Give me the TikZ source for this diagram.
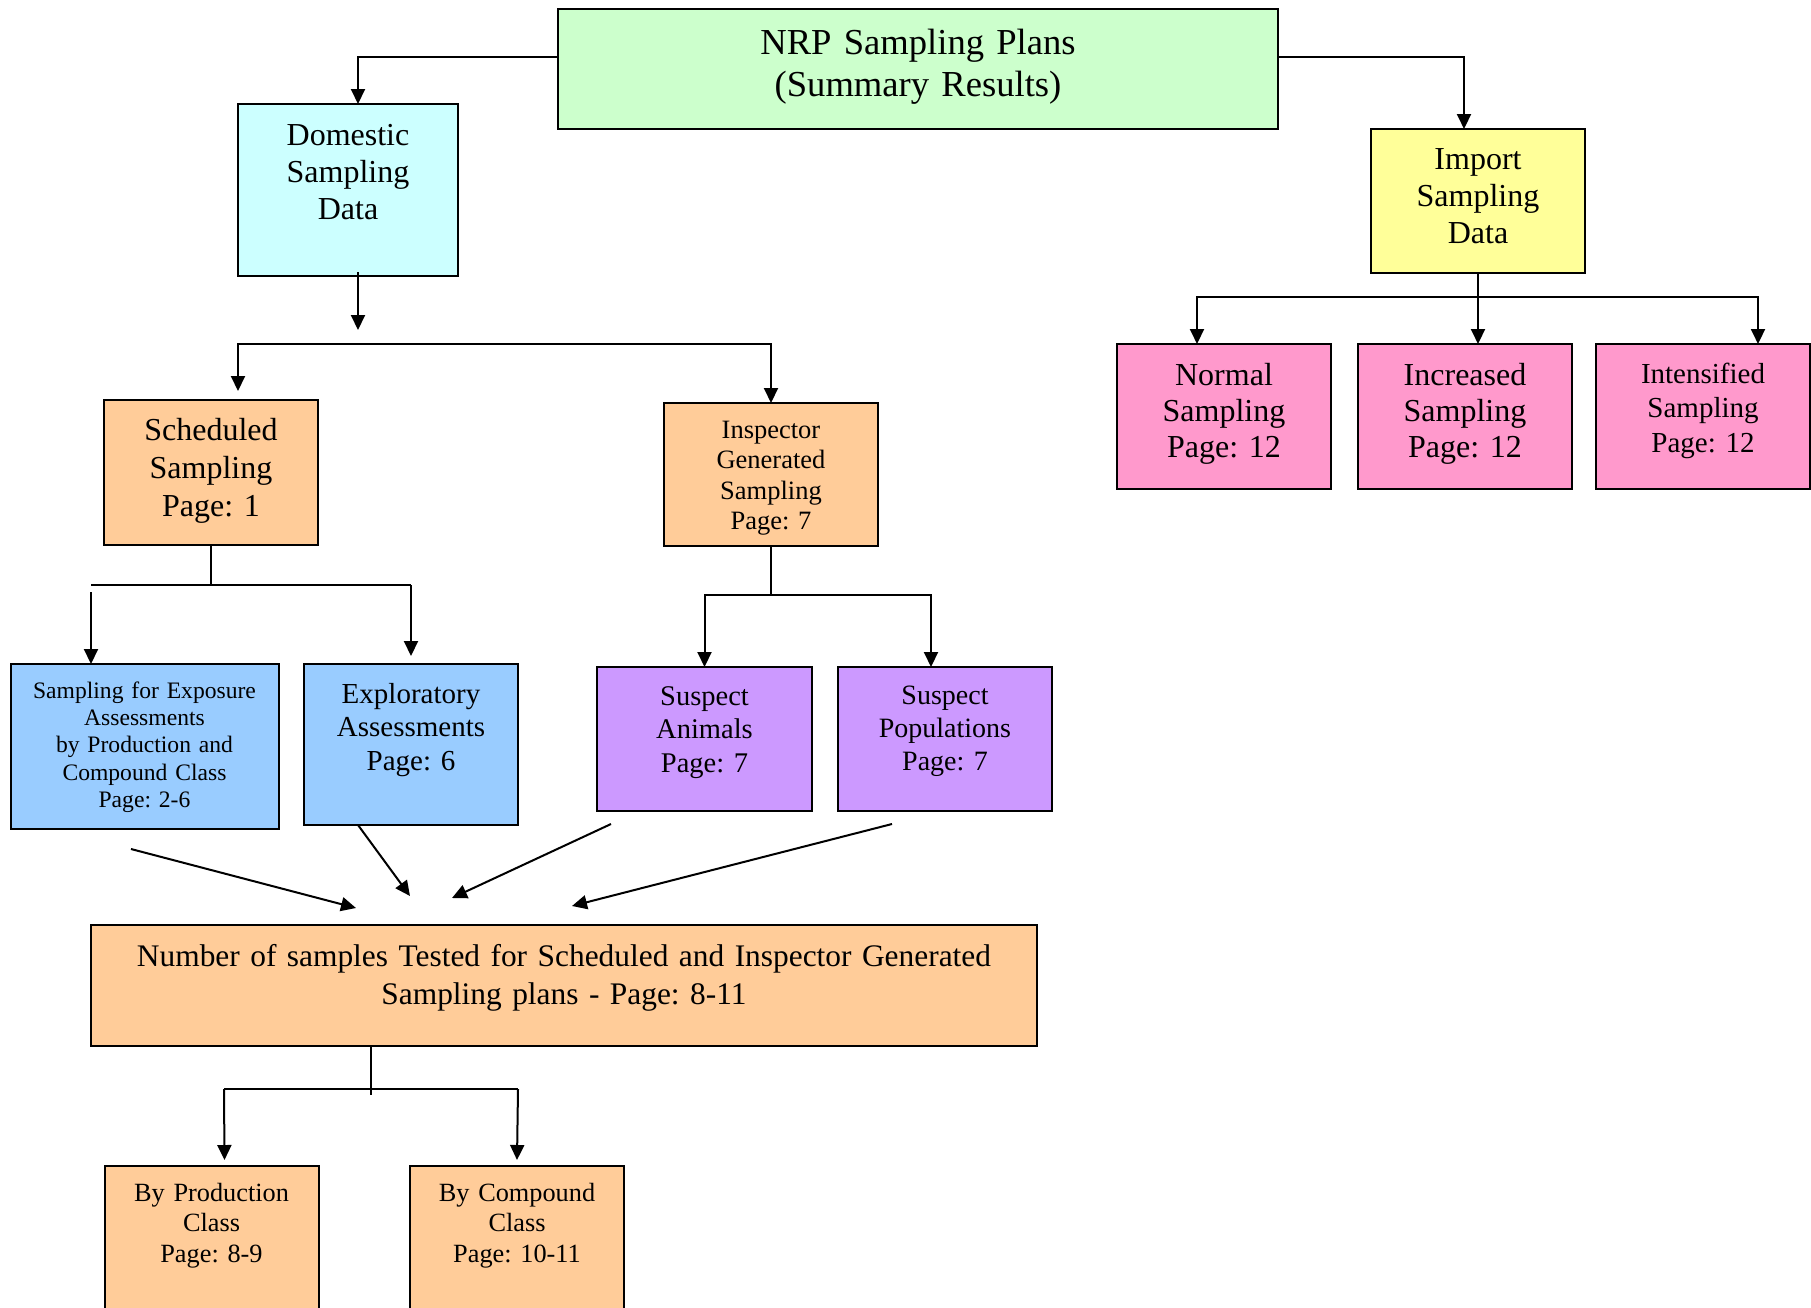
\documentclass[tikz,border=0pt]{standalone}
\usepackage{fontspec}
\setmainfont{Liberation Serif}
\usepackage{xcolor}
\usetikzlibrary{arrows.meta,positioning,calc}
\definecolor{plangreen}{HTML}{CCFFCC}
\definecolor{domcyan}{HTML}{CCFFFF}
\definecolor{impyellow}{HTML}{FFFF99}
\definecolor{schedtan}{HTML}{FFCC99}
\definecolor{imppink}{HTML}{FF99CC}
\definecolor{assessblue}{HTML}{99CCFF}
\definecolor{suspurple}{HTML}{CC99FF}
\newcommand\fsz[2]{\fontsize{#1}{#2}\selectfont\frenchspacing}
\tikzset{
  box/.style = {draw, anchor = north west, inner sep = 0pt, outer sep = 0pt},
  txt/.style = {align = center, inner sep = 0pt, text width = 205pt},
  arr/.style = {-{Triangle[length = 15pt, width = 14pt]}}
}
\begin{document}
\begin{tikzpicture}[x = 1pt, y = -1pt, line width = 2pt]
\useasboundingbox (0, 0) rectangle (1811, 1307);
\node[box, fill = plangreen, minimum width = 720pt, minimum height = 120pt] (plans) at (558, 9) {};
\node[txt, text width = 700pt, font = \fsz{36.6}{42}, below = 45pt of plans.north, anchor = base] (planstxt) {NRP Sampling Plans\\(Summary Results)};
\node[box, fill = domcyan, minimum width = 220pt, minimum height = 172pt] (dom) at (238, 104) {};
\node[txt, font = \fsz{32}{37}, below = 41pt of dom.north, anchor = base] (domtxt) {Domestic\\Sampling\\Data};
\node[box, fill = impyellow, minimum width = 214pt, minimum height = 144pt] (imp) at (1371, 129) {};
\node[txt, font = \fsz{32}{37}, below = 40pt of imp.north, anchor = base] (imptxt) {Import\\Sampling\\Data};
\node[box, fill = imppink, minimum width = 214pt, minimum height = 145pt] (norm) at (1117, 344) {};
\node[txt, font = \fsz{32}{36}, below = 41pt of norm.north, anchor = base] (normtxt) {Normal\\Sampling\\Page: 12};
\node[box, fill = imppink, minimum width = 214pt, minimum height = 145pt] (incr) at (1358, 344) {};
\node[txt, font = \fsz{32}{36}, below = 41pt of incr.north, anchor = base] (incrtxt) {Increased\\Sampling\\Page: 12};
\node[box, fill = imppink, minimum width = 214pt, minimum height = 145pt] (inten) at (1596, 344) {};
\node[txt, font = \fsz{29}{34.5}, below = 39pt of inten.north, anchor = base] (intentxt) {Intensified\\Sampling\\Page: 12};
\node[box, fill = schedtan, minimum width = 214pt, minimum height = 145pt] (sched) at (104, 400) {};
\node[txt, font = \fsz{32}{38}, below = 40pt of sched.north, anchor = base] (schedtxt) {Scheduled\\Sampling\\Page: 1};
\node[box, fill = schedtan, minimum width = 214pt, minimum height = 143pt] (insp) at (664, 403) {};
\node[txt, font = \fsz{26.5}{30.6}, below = 35pt of insp.north, anchor = base] (insptxt) {Inspector\\Generated\\Sampling\\Page: 7};
\node[box, fill = assessblue, minimum width = 268pt, minimum height = 165pt] (expo) at (10.5, 664) {};
\node[txt, text width = 262pt, font = \fsz{23.6}{27.4}, below = 34pt of expo.north, anchor = base] (expotxt) {Sampling for Exposure\\Assessments\\by Production and\\Compound Class\\Page: 2-6};
\node[box, fill = assessblue, minimum width = 214pt, minimum height = 161pt] (explo) at (304, 664) {};
\node[txt, font = \fsz{29}{33.6}, below = 39pt of explo.north, anchor = base] (explotxt) {Exploratory\\Assessments\\Page: 6};
\node[box, fill = suspurple, minimum width = 215pt, minimum height = 144pt] (susA) at (597, 667) {};
\node[txt, font = \fsz{28.5}{33.6}, below = 38pt of susA.north, anchor = base] (susAtxt) {Suspect\\Animals\\Page: 7};
\node[box, fill = suspurple, minimum width = 214pt, minimum height = 144pt] (susP) at (838, 667) {};
\node[txt, font = \fsz{28}{33}, below = 37pt of susP.north, anchor = base] (susPtxt) {Suspect\\Populations\\Page: 7};
\node[box, fill = schedtan, minimum width = 946pt, minimum height = 121pt] (tested) at (91, 925) {};
\node[txt, text width = 935pt, font = \fsz{31.4}{38.5}, below = 41pt of tested.north, anchor = base] (testedtxt) {Number of samples Tested for Scheduled and Inspector Generated\\Sampling plans - Page: 8-11};
\node[box, fill = schedtan, minimum width = 214pt, minimum height = 170pt] (byprod) at (104.5, 1166) {};
\node[txt, font = \fsz{26.3}{30.8}, below = 35pt of byprod.north, anchor = base] (byprodtxt) {By Production\\Class\\Page: 8-9};
\node[box, fill = schedtan, minimum width = 214pt, minimum height = 170pt] (bycomp) at (410, 1166) {};
\node[txt, font = \fsz{26.3}{30.8}, below = 35pt of bycomp.north, anchor = base] (bycomptxt) {By Compound\\Class\\Page: 10-11};
\draw[arr] ([yshift = 12pt]plans.west) -| ([xshift = 10pt]dom.north);
\draw[arr] ([yshift = 12pt]plans.east) -| ([xshift = -14pt]imp.north);
\coordinate (domend) at (358, 330);
\draw[arr] ([xshift = 10pt, yshift = 4pt]dom.south) -- (domend);
\coordinate (dbar) at (504, 344);
\draw[arr] (dbar) -| ([xshift = 27pt, yshift = 9pt]sched.north);
\draw[arr] (dbar) -| (insp.north);
\coordinate (mbar) at (1478, 297);
\draw[arr] (imp.south) -- ([xshift = 13pt]incr.north);
\draw[arr] (mbar) -| ([xshift = -27pt]norm.north);
\draw[arr] (mbar) -| ([xshift = 55pt]inten.north);
\coordinate (sbarL) at (91, 585);
\coordinate (sbarR) at (411, 585);
\draw (sched.south) -- (sched.south |- sbarL);
\draw (sbarL) -- (sbarR);
\draw[arr] ([yshift = -7pt]sbarL) -- ([xshift = -53.5pt]expo.north);
\draw[arr] (sbarR) -- ([yshift = 8pt]explo.north);
\coordinate (ibar) at (771, 595);
\draw (insp.south) -- (ibar);
\draw[arr] (ibar) -| (susA.north);
\draw[arr] (ibar) -| ([xshift = -14pt]susP.north);
\coordinate (tipA) at (356, 908);
\coordinate (tipB) at (410, 896);
\coordinate (tipC) at (452, 898);
\coordinate (tipD) at (572, 906);
\draw[arr] ([xshift = -13.5pt, yshift = -20pt]expo.south) -- (tipA);
\draw[arr] ([xshift = -53pt]explo.south) -- (tipB);
\draw[arr] ([xshift = -93.5pt, yshift = -13pt]susA.south) -- (tipC);
\draw[arr] ([xshift = -53pt, yshift = -13pt]susP.south) -- (tipD);
\coordinate (bbar) at (371, 1089);
\coordinate (bbarL) at (224, 1089);
\coordinate (bbarR) at (518, 1089);
\draw (tested.south -| bbar) -- ([yshift = -6pt]bbar);
\draw (bbarL) -- (bbarR);
\draw[arr] (bbarL) -- ([xshift = 13pt, yshift = 6pt]byprod.north);
\draw[arr] (bbarR) -- ([yshift = 6pt]bycomp.north);
\end{tikzpicture}
\end{document}
